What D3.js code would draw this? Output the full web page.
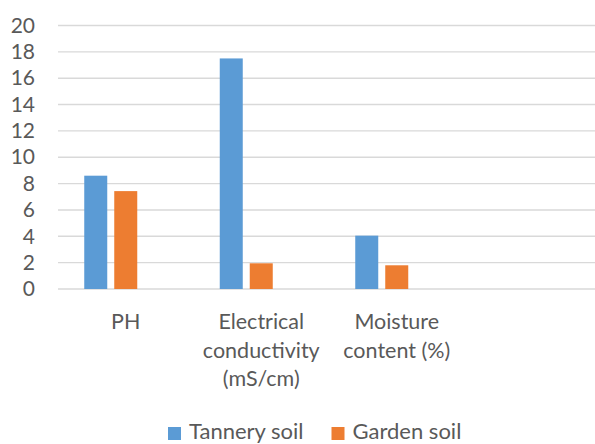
<!DOCTYPE html>
<html>
<head>
<meta charset="utf-8">
<script src="https://cdn.jsdelivr.net/npm/d3@7"></script>
<style>
  html, body { margin: 0; padding: 0; background: #fff; }
  svg { display: block; }
  text { font-family: Lato, "Open Sans", sans-serif; fill: #595959; }
</style>
</head>
<body>
<svg id="chart" width="595" height="444"></svg>
<script>
// Soil properties: tannery vs garden soil
const categories = ["PH", "Electrical conductivity (mS/cm)", "Moisture content (%)", ""];
const seriesNames = ["Tannery soil", "Garden soil"];
const tannerySoil = [8.6, 17.5, 4.05];
const gardenSoil = [7.43, 1.95, 1.8];
const yTicks = [0, 2, 4, 6, 8, 10, 12, 14, 16, 18, 20];
const colors = ["#5B9BD5", "#ED7D31"];

const svg = d3.select("#chart");
const plot = { left: 58, right: 600, top: 25.5, bottom: 289 };

const x0 = d3.scaleBand().domain(categories).range([plot.left, plot.right]).padding(0);
// three slots per category; the third is left empty
const x1 = d3.scaleBand()
  .domain([...seriesNames, "spare"])
  .range([0, x0.bandwidth()])
  .paddingInner(7 / 30)
  .paddingOuter(0.875);
const y = d3.scaleLinear().domain([0, 20]).range([plot.bottom, plot.top]);

// gridlines
svg.append("g")
  .selectAll("line")
  .data(yTicks)
  .join("line")
  .attr("x1", plot.left).attr("x2", plot.right)
  .attr("y1", d => y(d)).attr("y2", d => y(d))
  .attr("stroke", "#d9d9d9").attr("stroke-width", 1.4);

// y axis labels
const yAxis = d3.axisLeft(y).tickValues(yTicks).tickSize(0).tickPadding(0);
const yg = svg.append("g").attr("transform", `translate(35,0)`).call(yAxis);
yg.select(".domain").remove();
yg.selectAll("text").attr("font-size", 21).style("font-family", "Lato, sans-serif").attr("fill", "#595959");

// bars
const rows = categories.slice(0, tannerySoil.length).map((c, i) => ({
  cat: c,
  vals: [tannerySoil[i], gardenSoil[i]]
}));
const groups = svg.append("g").selectAll("g")
  .data(rows)
  .join("g")
  .attr("transform", d => `translate(${x0(d.cat)},0)`);
groups.selectAll("rect")
  .data(d => d.vals.map((v, k) => ({ name: seriesNames[k], v, k })))
  .join("rect")
  .attr("x", d => x1(d.name))
  .attr("width", x1.bandwidth())
  .attr("y", d => y(d.v))
  .attr("height", d => y(0) - y(d.v))
  .attr("fill", d => colors[d.k]);

// category labels with word wrap to band width
const labelG = svg.append("g");
const lineH = 28.7;
categories.forEach(cat => {
  if (!cat) return;
  const cx = x0(cat) + x0.bandwidth() / 2;
  const t = labelG.append("text")
    .attr("text-anchor", "middle")
    .attr("font-size", 21.5)
    .attr("x", cx).attr("y", 329);
  const words = cat.split(" ");
  let line = [];
  let tspan = t.append("tspan").attr("x", cx).attr("dy", 0);
  words.forEach(w => {
    line.push(w);
    tspan.text(line.join(" "));
    if (tspan.node().getComputedTextLength() > x0.bandwidth() - 8 && line.length > 1) {
      line.pop();
      tspan.text(line.join(" "));
      line = [w];
      tspan = t.append("tspan").attr("x", cx).attr("dy", lineH).text(w);
    }
  });
});

// legend
const legend = svg.append("g").attr("transform", "translate(0,439)");
const legendX = [168, 331.5];
seriesNames.forEach((name, i) => {
  legend.append("rect")
    .attr("x", legendX[i]).attr("y", -12)
    .attr("width", 13).attr("height", 13)
    .attr("fill", colors[i]);
  legend.append("text")
    .attr("x", legendX[i] + 21).attr("y", 0)
    .attr("font-size", 22)
    .text(name);
});
</script>
</body>
</html>
